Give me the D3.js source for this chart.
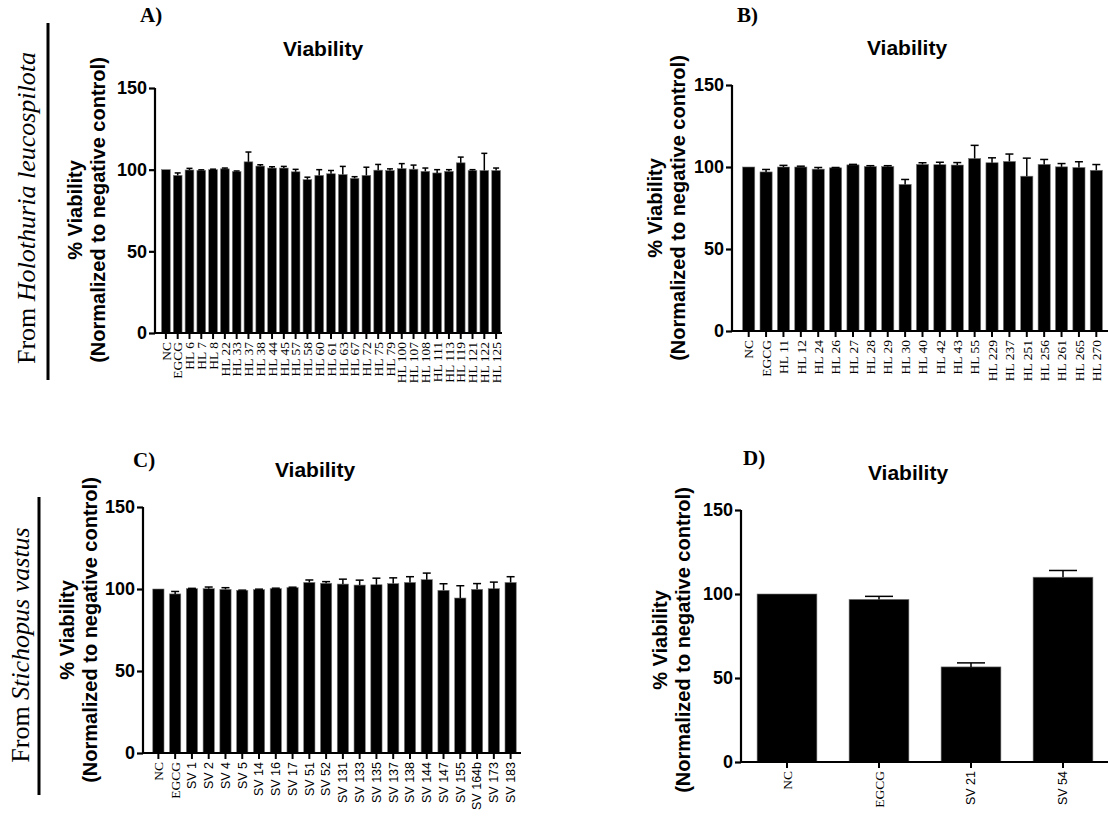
<!DOCTYPE html>
<html>
<head>
<meta charset="utf-8">
<script src="https://cdn.jsdelivr.net/npm/d3@7"></script>
<style>
body{margin:0;background:#fff;}
svg{display:block;}
.tick text{font-family:"Liberation Sans",Arial,sans-serif;}
</style>
</head>
<body>
<svg id="chart"></svg>
<script>
// panel A - Holothuria leucospilota extracts
var catsA = ["NC","EGCG","HL 6","HL 7","HL 8","HL 22","HL 33","HL 37","HL 38","HL 44","HL 45","HL 57","HL 58","HL 60","HL 61","HL 63","HL 67","HL 72","HL 75","HL 79","HL 100","HL 107","HL 108","HL 111","HL 113","HL 119","HL 121","HL 122","HL 125"];
var valsA = [100,96.5,99.8,99.6,100,100.5,98.8,104.8,102.2,101,101,98.7,93.9,96.5,97.5,97,94.7,96.5,99.7,99.5,100.7,100.3,99,98,99,104.2,99.5,99.5,99.5];
var errA  = [0,1.5,1,0.3,0.3,0.5,0.4,6,0.8,0.8,1,1.5,1.5,3.5,2,5,1,5,3.5,1,3,2.5,2,2,1,3.5,0.5,10.5,1.5];

// panel B
var catsB = ["NC","EGCG","HL 11","HL 12","HL 24","HL 26","HL 27","HL 28","HL 29","HL 30","HL 40","HL 42","HL 43","HL 55","HL 229","HL 237","HL 251","HL 256","HL 261","HL 265","HL 270"];
var valsB = [100,97,100,100,98.7,99.5,101.3,100.3,100.3,89.4,101.6,101.4,101.2,105.2,102.6,103.4,94.4,101.6,100.1,99.7,98];
var errB  = [0,1.5,1,0.5,1,0.2,0.3,0.5,0.5,3,1,1.5,1.5,8,3,4.5,11,3,2,3.5,3.5];

// panel C - Stichopus vastus extracts
var catsC = ["NC","EGCG","SV 1","SV 2","SV 4","SV 5","SV 14","SV 16","SV 17","SV 51","SV 52","SV 131","SV 133","SV 135","SV 137","SV 138","SV 144","SV 147","SV 155","SV 164b","SV 173","SV 183"];
var valsC = [100,97,100.2,100.2,99.8,99.2,99.6,100.2,100.8,104,103.5,103,102.4,102.6,103.3,104,105.7,99.2,94.5,99.8,100.2,104];
var errC  = [0,1.5,0.2,1,1,0.1,0.3,0.3,0.3,1.5,1,3,3,4,3.5,3.5,4,4,7.5,3.5,4,3.5];

// panel D
var catsD = ["NC","EGCG","SV 21","SV 54"];
var valsD = [100,96.8,56.6,110];
var errD  = [0,1.8,2.4,4];

var yTicks = [0,50,100,150];

var svg = d3.select("#chart")
    .attr("width",1108)
    .attr("height",820);

var isSans = function(c){ return c.indexOf("SV")==0; }

var drawPanel = function(p)
{
    var g = svg.append("g");

    var xScale = d3.scaleBand()
        .domain(p.cats)
        .range([p.bandStart,p.bandEnd])
        .paddingInner(p.pad)
        .paddingOuter(p.pad/2);

    var yScale = d3.scaleLinear()
        .domain([0,150])
        .range([p.y0,p.yTop]);

    var data = p.cats.map(function(c,i){
        return {cat:c,val:p.vals[i],err:p.errs[i]};
    });

    // bars
    g.selectAll("rect.bar")
        .data(data)
        .enter()
        .append("rect")
        .attr("x",function(d){return xScale(d.cat);})
        .attr("width",xScale.bandwidth())
        .attr("y",function(d){return yScale(d.val);})
        .attr("height",function(d){return p.y0-yScale(d.val);})
        .attr("fill","#000")
        .attr("stroke","#777")
        .attr("stroke-width",0.6);

    // upper error bars
    var eb = g.selectAll("g.err")
        .data(data.filter(function(d){return d.err>0;}))
        .enter()
        .append("g")
        .attr("stroke","#000")
        .attr("stroke-width",1.5);
    eb.append("line")
        .attr("x1",function(d){return xScale(d.cat)+xScale.bandwidth()/2;})
        .attr("x2",function(d){return xScale(d.cat)+xScale.bandwidth()/2;})
        .attr("y1",function(d){return yScale(d.val);})
        .attr("y2",function(d){return yScale(d.val+d.err);});
    eb.append("line")
        .attr("x1",function(d){return xScale(d.cat)+xScale.bandwidth()/2-p.cap;})
        .attr("x2",function(d){return xScale(d.cat)+xScale.bandwidth()/2+p.cap;})
        .attr("y1",function(d){return yScale(d.val+d.err);})
        .attr("y2",function(d){return yScale(d.val+d.err);});

    // y axis
    var yAxis = g.append("g")
        .attr("transform","translate("+p.axisX+",0)")
        .call(d3.axisLeft(yScale).tickValues(yTicks).tickSize(6).tickPadding(2));
    yAxis.selectAll("path,line").attr("stroke","#000").attr("stroke-width",2.2);
    yAxis.select("path").attr("d","M0,"+p.yTop+"V"+p.y0);
    yAxis.selectAll("text")
        .attr("font-size",18)
        .attr("font-weight","bold")
        .attr("fill","#000");

    // x axis
    var xAxis = g.append("g")
        .attr("transform","translate(0,"+p.y0+")")
        .call(d3.axisBottom(xScale).tickSize(6).tickSizeOuter(0));
    xAxis.select("path").attr("d","M"+p.axisX+",0H"+p.axisEnd)
        .attr("stroke","#000").attr("stroke-width",2.2);
    xAxis.selectAll("line").attr("stroke","#000").attr("stroke-width",2);
    xAxis.selectAll("text")
        .attr("transform","rotate(-90)")
        .attr("text-anchor","end")
        .attr("dy","0.35em")
        .attr("x",-9)
        .attr("y",0)
        .attr("font-size",function(d){return isSans(d)?p.labelSize-1:p.labelSize;})
        .attr("fill","#000")
        .style("font-family",function(d){return isSans(d)?"'Liberation Sans',Arial,sans-serif":"'Liberation Serif','Times New Roman',serif";});

    // title
    g.append("text")
        .text("Viability")
        .attr("x",p.titleX)
        .attr("y",p.titleY)
        .attr("text-anchor","middle")
        .attr("font-family","'Liberation Sans',Arial,sans-serif")
        .attr("font-weight","bold")
        .attr("font-size",21);

    // y label
    var lab = g.append("text")
        .attr("transform","translate("+p.labX+","+p.labY+") rotate(-90)")
        .attr("text-anchor","middle")
        .attr("font-family","'Liberation Sans',Arial,sans-serif")
        .attr("font-weight","bold")
        .attr("font-size",20);
    lab.append("tspan").attr("x",0).attr("y",0).text("% Viability");
    lab.append("tspan").attr("x",0).attr("y",23).text("(Normalized to negative control)");

    // panel letter
    g.append("text")
        .text(p.letter)
        .attr("x",p.letterX)
        .attr("y",p.letterY)
        .attr("font-family","'Liberation Serif','Times New Roman',serif")
        .attr("font-weight","bold")
        .attr("font-size",21);
}

drawPanel({cats:catsA,vals:valsA,errs:errA,bandStart:160,bandEnd:502,pad:0.26,cap:3,
    axisX:155,axisEnd:502,y0:333,yTop:88,labelSize:13.5,
    titleX:323,titleY:56,labX:82,labY:210,letter:"A)",letterX:140,letterY:22});
drawPanel({cats:catsB,vals:valsB,errs:errB,bandStart:740,bandEnd:1105,pad:0.3,cap:4,
    axisX:732,axisEnd:1108,y0:331,yTop:85,labelSize:13.5,
    titleX:907,titleY:55,labX:662,labY:208,letter:"B)",letterX:737,letterY:22});
drawPanel({cats:catsC,vals:valsC,errs:errC,bandStart:150,bandEnd:519,pad:0.33,cap:4,
    axisX:143,axisEnd:521,y0:753,yTop:507,labelSize:13.5,
    titleX:315,titleY:477,labX:74,labY:630,letter:"C)",letterX:133,letterY:467});
drawPanel({cats:catsD,vals:valsD,errs:errD,bandStart:741,bandEnd:1109,pad:0.35,cap:14,
    axisX:741,axisEnd:1108,y0:762,yTop:510,labelSize:13.5,
    titleX:908,titleY:480,labX:667,labY:640,letter:"D)",letterX:743,letterY:465});

// species labels on the left
var species = [
    {from:"From ",name:"Holothuria leucospilota",x:35,y:208,lineX:48,lineTop:23,lineBottom:380},
    {from:"From ",name:"Stichopus vastus",x:29,y:645,lineX:39,lineTop:497,lineBottom:795}
];
species.forEach(function(s){
    var t = svg.append("text")
        .attr("transform","translate("+s.x+","+s.y+") rotate(-90)")
        .attr("text-anchor","middle")
        .attr("font-family","'Liberation Serif','Times New Roman',serif")
        .attr("font-size",26);
    t.append("tspan").text(s.from);
    t.append("tspan").attr("font-style","italic").text(s.name);
    svg.append("line")
        .attr("x1",s.lineX).attr("x2",s.lineX)
        .attr("y1",s.lineTop).attr("y2",s.lineBottom)
        .attr("stroke","#000").attr("stroke-width",3);
});
</script>
</body>
</html>
